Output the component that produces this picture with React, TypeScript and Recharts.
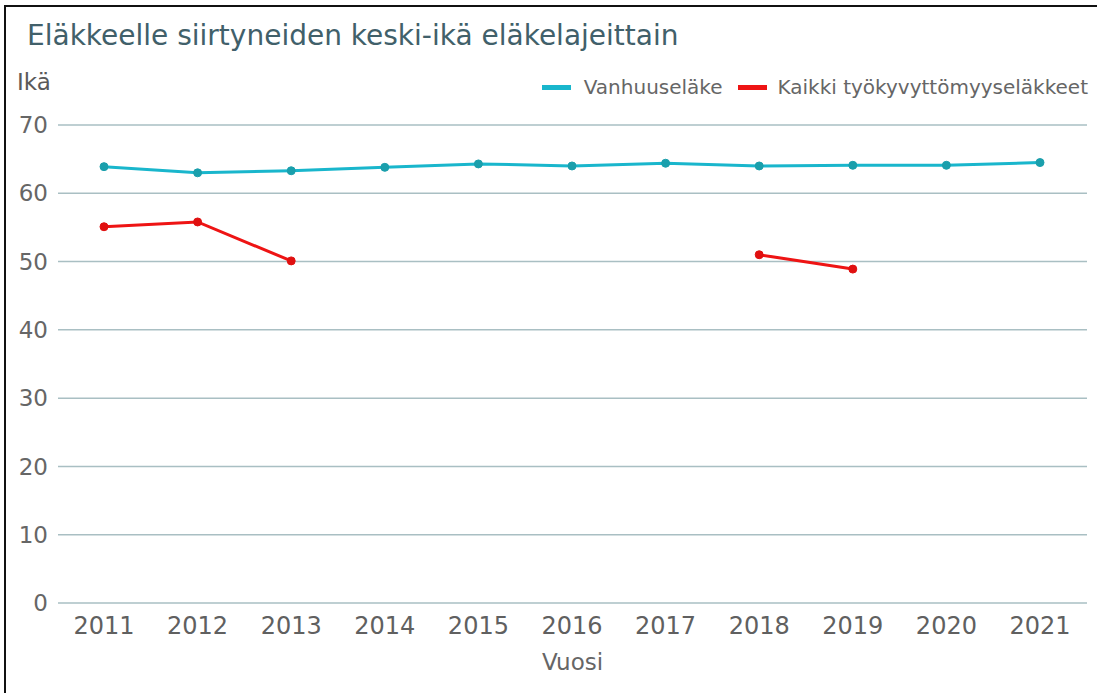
import React from 'react';
import {
  LineChart,
  Line,
  XAxis,
  YAxis,
  CartesianGrid,
  Label,
} from 'recharts';

const years = ['2011', '2012', '2013', '2014', '2015', '2016', '2017', '2018', '2019', '2020', '2021'];
const vanhuus = [63.9, 63.0, 63.3, 63.8, 64.3, 64.0, 64.4, 64.0, 64.1, 64.1, 64.5];
const tyokyvyttomyys: (number | null)[] = [55.1, 55.8, 50.1, null, null, null, null, 51.0, 48.9, null, null];
const yTicks = [0, 10, 20, 30, 40, 50, 60, 70];

const data = years.map((year, i) => ({
  year,
  vanhuus: vanhuus[i],
  tyokyky: tyokyvyttomyys[i],
}));

const FONT = '"DejaVu Sans", Verdana, sans-serif';
const CYAN = '#19b6cc';
const RED = '#ee1414';

const LegendBox = () => (
  <div
    style={{
      position: 'absolute',
      right: 9,
      top: 75,
      display: 'flex',
      alignItems: 'center',
      fontFamily: FONT,
      fontSize: 20,
      color: '#666',
      whiteSpace: 'nowrap',
    }}
  >
    <span style={{ display: 'inline-block', width: 29, height: 5, background: CYAN, marginRight: 13 }} />
    <span style={{ marginRight: 15 }}>Vanhuuseläke</span>
    <span style={{ display: 'inline-block', width: 29, height: 5, background: RED, marginRight: 11 }} />
    <span>Kaikki työkyvyttömyyseläkkeet</span>
  </div>
);

export default function App() {
  return (
    <div style={{ position: 'absolute', left: 0, top: 0, width: 1097, height: 693, background: '#fff', overflow: 'hidden' }}>
      <div
        style={{
          position: 'absolute',
          left: 4,
          top: 5,
          width: 1110,
          height: 700,
          borderLeft: '2px solid #111',
          borderTop: '2px solid #111',
        }}
      />
      <div style={{ position: 'absolute', left: 27, top: 19, fontFamily: FONT, fontSize: 28, color: '#41606a', whiteSpace: 'nowrap' }}>
        Eläkkeelle siirtyneiden keski-ikä eläkelajeittain
      </div>
      <div style={{ position: 'absolute', left: 17, top: 69, fontFamily: FONT, fontSize: 23, color: '#5a5a5a' }}>
        Ikä
      </div>
      <LegendBox />
      <LineChart
        width={1097}
        height={693}
        data={data}
        margin={{ top: 125, right: 10, bottom: 40, left: 0 }}
      >
        <CartesianGrid vertical={false} stroke="#a9bfc3" strokeWidth={1.5} />
        <XAxis
          dataKey="year"
          axisLine={false}
          tickLine={false}
          tickSize={6}
          tickMargin={8}
          height={50}
          padding={{ left: 46, right: 47 }}
          tick={{ fill: '#606060', fontSize: 24, fontFamily: FONT }}
          interval={0}
        >
          <Label value="Vuosi" position="insideBottom" offset={-17} style={{ fill: '#666', fontSize: 23, fontFamily: FONT }} />
        </XAxis>
        <YAxis
          domain={[0, 70]}
          ticks={yTicks}
          axisLine={false}
          tickLine={false}
          tickSize={6}
          tickMargin={4}
          width={58}
          tick={{ fill: '#666', fontSize: 23, fontFamily: FONT }}
        />
        <Line
          type="linear"
          dataKey="vanhuus"
          name="Vanhuuseläke"
          stroke={CYAN}
          strokeWidth={3}
          dot={{ r: 4, fill: '#1a9fac', stroke: '#1a9fac', strokeWidth: 1 }}
          isAnimationActive={false}
        />
        <Line
          type="linear"
          dataKey="tyokyky"
          name="Kaikki työkyvyttömyyseläkkeet"
          stroke={RED}
          strokeWidth={3}
          dot={{ r: 4, fill: '#e01010', stroke: '#e01010', strokeWidth: 1 }}
          isAnimationActive={false}
        />
      </LineChart>
    </div>
  );
}
